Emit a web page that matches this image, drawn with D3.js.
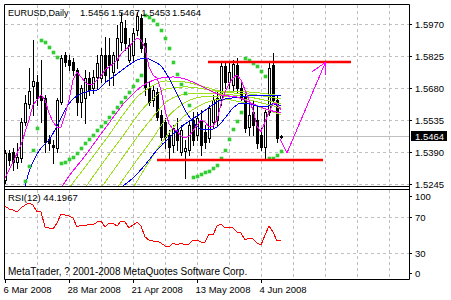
<!DOCTYPE html>
<html><head><meta charset="utf-8">
<script src="https://cdn.jsdelivr.net/npm/d3@7"></script>
<style>
body{margin:0;background:#fff}
svg{display:block}
text{font-family:"Liberation Sans",Arial,sans-serif;font-size:9.5px;fill:#000}
</style>
</head><body><svg id="c" width="451" height="300"></svg>
<script>
// ---------- data ----------
const symbol = "EURUSD,Daily";
const lastQuote = [1.5456, 1.5467, 1.5453, 1.5464];
const dateTicks = [0, 16, 32, 48, 64];
const dateLabels = ["6 Mar 2008", "28 Mar 2008", "21 Apr 2008", "13 May 2008", "4 Jun 2008"];
const priceTicks = [1.5970, 1.5825, 1.5680, 1.5535, 1.5390, 1.5245];
const rsiTicks = [100, 70, 30, 0];
const rsiLabel = "RSI(12) 44.1967";
const copyright = "MetaTrader, ? 2001-2008 MetaQuotes Software Corp.";

const open = [1.5263,1.5386,1.5390,1.5345,1.5363,1.5526,1.5608,1.5689,1.5707,1.5644,
1.5635,1.5449,1.5422,1.5408,1.5617,1.5830,1.5807,1.5798,1.5762,1.5617,
1.5635,1.5725,1.5680,1.5730,1.5725,1.5830,1.5830,1.5753,1.5807,1.5888,
1.5952,1.5807,1.5830,1.5943,1.5997,1.5884,1.5680,1.5626,1.5662,1.5558,
1.5526,1.5467,1.5422,1.5490,1.5390,1.5395,1.5399,1.5535,1.5467,1.5535,
1.5481,1.5453,1.5526,1.5535,1.5626,1.5780,1.5707,1.5694,1.5784,1.5680,
1.5644,1.5503,1.5571,1.5535,1.5467,1.5413,1.5571,1.5784,1.5626,1.5456];
const high = [1.5399,1.5399,1.5408,1.5431,1.5544,1.5648,1.5771,1.5897,1.5739,1.5807,
1.5648,1.5467,1.5444,1.5635,1.5830,1.5843,1.5830,1.5816,1.5771,1.5694,
1.5762,1.5753,1.5762,1.5830,1.5861,1.5911,1.5907,1.5843,1.5965,1.6020,
1.5988,1.5907,1.5952,1.6024,1.6015,1.5907,1.5707,1.5694,1.5680,1.5580,
1.5544,1.5490,1.5512,1.5544,1.5512,1.5444,1.5535,1.5571,1.5571,1.5580,
1.5512,1.5603,1.5648,1.5662,1.5798,1.5798,1.5798,1.5807,1.5816,1.5707,
1.5662,1.5603,1.5626,1.5603,1.5499,1.5589,1.5798,1.5839,1.5648,1.5467];
const low = [1.5250,1.5331,1.5308,1.5318,1.5345,1.5512,1.5589,1.5558,1.5603,1.5526,
1.5390,1.5399,1.5340,1.5390,1.5608,1.5780,1.5762,1.5739,1.5558,1.5549,
1.5521,1.5648,1.5657,1.5680,1.5707,1.5707,1.5694,1.5694,1.5771,1.5852,
1.5852,1.5798,1.5807,1.5920,1.5843,1.5648,1.5603,1.5598,1.5535,1.5444,
1.5408,1.5363,1.5390,1.5399,1.5376,1.5272,1.5376,1.5422,1.5444,1.5376,
1.5408,1.5435,1.5499,1.5512,1.5603,1.5680,1.5680,1.5671,1.5662,1.5626,
1.5481,1.5467,1.5467,1.5408,1.5399,1.5363,1.5558,1.5617,1.5435,1.5453];
const close = [1.5386,1.5354,1.5345,1.5367,1.5526,1.5612,1.5666,1.5712,1.5635,1.5626,
1.5435,1.5431,1.5413,1.5626,1.5816,1.5798,1.5784,1.5762,1.5617,1.5680,
1.5725,1.5671,1.5730,1.5793,1.5830,1.5739,1.5784,1.5830,1.5907,1.5979,
1.5884,1.5875,1.5929,1.6006,1.5861,1.5685,1.5617,1.5671,1.5549,1.5458,
1.5458,1.5413,1.5499,1.5444,1.5490,1.5408,1.5512,1.5444,1.5544,1.5422,
1.5435,1.5589,1.5626,1.5635,1.5780,1.5707,1.5753,1.5789,1.5680,1.5639,
1.5499,1.5558,1.5512,1.5431,1.5413,1.5571,1.5771,1.5626,1.5453,1.5464];

// Parabolic SAR (null = not visible)
const sar = [null,null,null,null,null,1.5259,1.5327,1.5399,1.5499,1.5897,
1.5888,1.5866,1.5843,1.5820,1.5340,1.5345,1.5358,1.5367,1.5386,1.5408,
1.5431,1.5449,1.5467,1.5490,1.5508,1.5526,1.5549,1.5571,1.5594,1.5617,
1.5639,1.5662,1.5689,1.5716,1.5739,1.6011,1.6002,1.5988,1.5970,1.5943,
1.5907,1.5861,1.5798,1.5743,1.5698,1.5657,1.5603,1.5277,1.5281,1.5290,
1.5299,1.5304,1.5318,1.5331,1.5363,1.5399,1.5449,1.5494,1.5531,1.5571,
1.5816,1.5807,1.5793,1.5780,1.5757,1.5734,1.5363,1.5363,1.5376,1.5395];

// moving averages: [bar, price]
const maFast = [[0,1.5272],[2,1.5345],[4,1.5422],[6,1.5535],[7,1.5603],[9,1.5648],[10,1.5626],[11,1.5567],
[12,1.5526],[13,1.5503],[14,1.5503],[15,1.5558],[16,1.5626],[17,1.5716],[18,1.5753],[19,1.5730],[20,1.5707],
[21,1.5694],[22,1.5698],[23,1.5716],[24,1.5734],[25,1.5762],[26,1.5775],[27,1.5789],[28,1.5807],[29,1.5834],
[30,1.5852],[31,1.5866],[32,1.5888],[33,1.5907],[34,1.5897],[35,1.5861],[36,1.5775],[37,1.5739],[38,1.5725],
[39,1.5671],[40,1.5580],[41,1.5517],[42,1.5494],[43,1.5485],[44,1.5462],[45,1.5453],[46,1.5462],[47,1.5485],
[48,1.5512],[49,1.5535],[50,1.5526],[51,1.5503],[52,1.5508],[53,1.5535],[54,1.5608],[55,1.5662],[56,1.5698],
[57,1.5725],[58,1.5739],[59,1.5716],[60,1.5671],[61,1.5626],[62,1.5580],[63,1.5508],[64,1.5481],[65,1.5526],
[66,1.5571],[67,1.5608],[68,1.5608],[69,1.5580]];
const maMid = [[5,1.5236],[6,1.5299],[7,1.5345],[9,1.5408],[11,1.5444],[13,1.5508],[15,1.5580],[17,1.5630],
[19,1.5653],[21,1.5666],[23,1.5671],[25,1.5703],[27,1.5730],[29,1.5757],[31,1.5784],[33,1.5807],[35,1.5816],
[37,1.5802],[39,1.5780],[41,1.5725],[43,1.5653],[45,1.5580],[47,1.5526],[49,1.5494],[51,1.5490],[53,1.5503],
[55,1.5544],[57,1.5589],[59,1.5612],[61,1.5608],[63,1.5598],[65,1.5594],[67,1.5608],[69,1.5598]];
const maSlowBlue = [[29.5,1.5236],[32.5,1.5281],[35,1.5331],[38,1.5399],[41.5,1.5462],[45,1.5517],[48,1.5553],
[51.5,1.5598],[54,1.5626],[57,1.5635],[61,1.5644],[65,1.5648],[69,1.5644]];
const maSlowMagenta = [[14,1.5227],[16,1.5281],[18,1.5327],[20,1.5372],[22,1.5422],[24,1.5472],[26,1.5521],
[28,1.5571],[30,1.5617],[32,1.5653],[34,1.5685],[36,1.5707],[39,1.5725],[42,1.5730],[45,1.5721],[48,1.5698],
[51,1.5671],[54,1.5648],[58,1.5639],[62,1.5608],[66,1.5580],[69,1.5567]];
const lime1 = [[16,1.5227],[21,1.5345],[26,1.5467],[30,1.5571],[33,1.5639],[36,1.5680],[40,1.5712],[45,1.5707],[50,1.5685],[54,1.5666],[61,1.5662],[69,1.5644]];
const lime2 = [[20,1.5227],[25,1.5354],[30,1.5476],[34,1.5576],[37,1.5630],[40,1.5675],[45,1.5685],[50,1.5675],[54,1.5662],[61,1.5653],[69,1.5630]];
const lime3 = [[24,1.5227],[29,1.5354],[34,1.5481],[37,1.5549],[40,1.5612],[44,1.5648],[49,1.5657],[54,1.5653],[61,1.5639],[69,1.5608]];
const lime4 = [[28,1.5227],[33,1.5354],[37,1.5453],[40,1.5535],[44,1.5603],[49,1.5639],[54,1.5644],[61,1.5626],[69,1.5589]];
const lime5 = [[32,1.5227],[36,1.5345],[40,1.5453],[44,1.5540],[49,1.5603],[54,1.5630],[61,1.5608],[69,1.5558]];

const rsi = [82.2,78.9,77.8,75.6,80.0,83.3,85.6,83.3,75.6,75.6,
58.9,57.8,56.7,63.3,73.3,72.2,71.1,68.9,58.9,61.1,
60.0,62.2,61.1,64.4,65.6,58.9,63.3,63.3,60.0,65.6,
64.4,57.8,61.1,64.4,60.0,47.8,44.4,43.3,43.3,41.1,
37.8,36.7,41.1,38.9,41.1,38.9,40.0,44.4,44.4,42.2,
42.2,51.1,50.0,60.0,62.2,57.8,58.9,57.8,53.3,52.2,
44.4,46.7,45.6,41.1,38.9,50.0,60.0,53.3,43.3,44.2];

// user-drawn objects: [bar, price]
const trendTop = [[50.75,1.5798],[86.5,1.5798]];
const trendBottom = [[38,1.5354],[79.5,1.5354]];
const arrowPath = [[68.75,1.5449],[70.5,1.5386],[80.1,1.5796]];
const arrowHead = [[76.75,1.5753],[80.1,1.5796],[80.25,1.5739]];

// ---------- drawing ----------
const svg = d3.select("#c");
const L = 4, R = 409, T = 4, MB = 186, RT = 189, RB = 279;
const x = d3.scaleLinear().domain([0, 100]).range([5, 405]);
const y = d3.scaleLinear().domain([1.5245, 1.5970]).range([184, 24]);
const yr = d3.scaleLinear().domain([0, 100]).range([280, 190]);
const px = v => Math.round(v) + 0.5;

const defs = svg.append("defs");
defs.append("clipPath").attr("id","cm").append("rect").attr("x",L+1).attr("y",T+1).attr("width",R-L-1).attr("height",MB-T-1);
defs.append("clipPath").attr("id","cr").append("rect").attr("x",L+1).attr("y",RT+1).attr("width",R-L-1).attr("height",RB-RT-1);

const grid = "#c0c0c0";
const gridBars = d3.range(8, 101, 8);
[[T+1,MB],[RT+1,RB]].forEach(([a,b])=>{
  svg.append("g").selectAll("line").data(gridBars).join("line")
    .attr("x1",d=>px(x(d))).attr("x2",d=>px(x(d))).attr("y1",a).attr("y2",b)
    .attr("stroke",grid).attr("stroke-dasharray","3,3");
});
svg.append("g").selectAll("line").data(priceTicks).join("line")
  .attr("x1",L+1).attr("x2",R).attr("y1",d=>px(y(d))).attr("y2",d=>px(y(d)))
  .attr("stroke",grid).attr("stroke-dasharray","3,3");
svg.append("g").selectAll("line").data([70,30]).join("line")
  .attr("x1",L+1).attr("x2",R).attr("y1",d=>px(yr(d))).attr("y2",d=>px(yr(d)))
  .attr("stroke",grid).attr("stroke-dasharray","3,3");
svg.append("line").attr("x1",L+1).attr("x2",R).attr("y1",px(y(lastQuote[3]))).attr("y2",px(y(lastQuote[3])))
  .attr("stroke",grid);

const gm = svg.append("g").attr("clip-path","url(#cm)");
const bars = close.map((c,i)=>({i,o:open[i],h:high[i],l:low[i],c}));
gm.append("g").selectAll("line").data(bars).join("line")
  .attr("x1",d=>Math.round(x(d.i))+0.5).attr("x2",d=>Math.round(x(d.i))+0.5)
  .attr("y1",d=>Math.round(y(d.h))).attr("y2",d=>Math.round(y(d.l))+1)
  .attr("stroke","#000");
gm.append("g").selectAll("rect").data(bars).join("rect")
  .each(function(d){
    const cx = Math.round(x(d.i));
    const yo = Math.round(y(d.o)), yc = Math.round(y(d.c));
    const t = Math.min(yo,yc), b = Math.max(yo,yc);
    const s = d3.select(this);
    if (d.c >= d.o) {
      s.attr("x",cx-0.5).attr("y",t+0.5).attr("width",2).attr("height",Math.max(b-t,1))
       .attr("fill","#fff").attr("stroke","#000");
    } else {
      s.attr("x",cx-1).attr("y",t).attr("width",3).attr("height",Math.max(b-t+1,1)).attr("fill","#000");
    }
  });

const line = d3.line().x(d=>x(d[0])).y(d=>y(d[1]));
const smooth = d3.line().x(d=>x(d[0])).y(d=>y(d[1])).curve(d3.curveMonotoneX);
const limeC = "#9de020";
const addPath = (g, d, c, w) => g.append("path").attr("d", d).attr("fill","none").attr("stroke", c)
  .attr("stroke-width", w || 1).attr("shape-rendering","crispEdges");
[lime5,lime4,lime3,lime2,lime1].forEach(s=>addPath(gm, smooth(s), limeC));
addPath(gm, smooth(maSlowBlue), "#0000ff");
addPath(gm, smooth(maSlowMagenta), "#ff00ff");
addPath(gm, smooth(maMid), "#0000ff");
addPath(gm, line(maFast), "#ff00ff");

gm.append("g").selectAll("rect").data(sar.map((v,i)=>[i,v]).filter(d=>d[1]!=null)).join("rect")
  .attr("x",d=>Math.round(x(d[0]))-1).attr("y",d=>Math.round(y(d[1]))-1).attr("width",3).attr("height",3)
  .attr("fill","#32cd32").attr("stroke","#32cd32").attr("stroke-width",0.6);

[trendTop,trendBottom].forEach(s=>gm.append("path").attr("d",line(s)).attr("stroke","#ff0000").attr("stroke-width",2.5).attr("fill","none"));
addPath(gm, line(arrowPath), "#ff00ff");
addPath(gm, line(arrowHead), "#ff00ff");

const gr = svg.append("g").attr("clip-path","url(#cr)");
addPath(gr, d3.line().x((d,i)=>x(i)).y(d=>yr(d))(rsi), "#ff0000");

const frame = svg.append("g").attr("stroke","#000").attr("fill","none");
frame.append("path").attr("d",`M${L+0.5},${T+0.5}H${R+0.5}V${RB+0.5}H${L+0.5}Z`);
frame.append("line").attr("x1",L).attr("x2",R+1).attr("y1",MB+0.5).attr("y2",MB+0.5);
frame.append("line").attr("x1",L).attr("x2",R+1).attr("y1",RT+0.5).attr("y2",RT+0.5);

const ap = svg.append("g").attr("transform",`translate(${R},0)`)
  .call(d3.axisRight(y).tickValues(priceTicks).tickSize(3).tickPadding(3).tickFormat(d3.format(".4f")));
ap.select(".domain").remove();
const ar = svg.append("g").attr("transform",`translate(${R},0)`)
  .call(d3.axisRight(yr).tickValues(rsiTicks).tickSize(3).tickPadding(3));
ar.select(".domain").remove();
ar.selectAll(".tick").attr("transform",d=>`translate(0,${px(yr(d)) + (d===100?6:d===0?-7:0)})`);
const ad = svg.append("g").attr("transform",`translate(0,${RB})`)
  .call(d3.axisBottom(x).tickValues(dateTicks).tickSize(4).tickPadding(3).tickFormat((d,i)=>dateLabels[i]));
ad.select(".domain").remove();
ad.selectAll("text").attr("text-anchor","start").attr("x",-2);
svg.selectAll(".tick text").style("font-family",'"Liberation Sans",Arial,sans-serif').style("font-size","9.5px").attr("fill","#000");

const yq = Math.round(y(lastQuote[3]));
svg.append("rect").attr("x",411).attr("y",yq-5).attr("width",36).attr("height",10).attr("fill","#000");
svg.append("text").attr("x",415).attr("y",yq+3.5).style("fill","#fff").text(d3.format(".4f")(lastQuote[3]));

svg.append("text").attr("x",8).attr("y",16).style("font-size","9px").text(symbol);
const qx = d3.scalePoint().domain(d3.range(4)).range([80,172]);
svg.append("g").selectAll("text").data(lastQuote).join("text")
  .attr("x",(d,i)=>qx(i)).attr("y",16).style("font-size","9.5px").text(d=>d3.format(".4f")(d));
svg.append("text").attr("x",8).attr("y",201).text(rsiLabel);
svg.append("text").attr("x",8).attr("y",275).style("font-size","10px").text(copyright);
</script>
</body></html>
